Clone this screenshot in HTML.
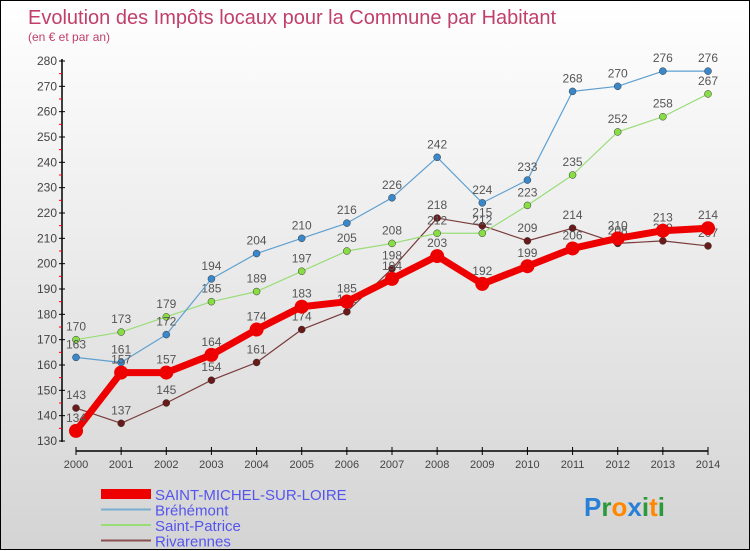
<!DOCTYPE html>
<html><head><meta charset="utf-8"><style>
body{margin:0;width:750px;height:550px;overflow:hidden;font-family:"Liberation Sans",sans-serif}
#wrap{position:relative;width:748px;height:548px;border:1px solid #000;background:linear-gradient(#fff,#d4d4d4)}
svg{position:absolute;left:0;top:0}
</style></head><body>
<div id="wrap">
<svg id="chart" width="750" height="550"></svg>
</div>
<script>
const years=[2000,2001,2002,2003,2004,2005,2006,2007,2008,2009,2010,2011,2012,2013,2014];
const smsl=[134,157,157,164,174,183,185,194,203,192,199,206,210,213,214];
const brehemont=[163,161,172,194,204,210,216,226,242,224,233,268,270,276,276];
const saintPatrice=[170,173,179,185,189,197,205,208,212,212,223,235,252,258,267];
const rivarennes=[143,137,145,154,161,174,181,198,218,215,209,214,208,209,207];
const yTicks=[130,140,150,160,170,180,190,200,210,220,230,240,250,260,270,280];
const seriesNames=["SAINT-MICHEL-SUR-LOIRE","Bréhémont","Saint-Patrice","Rivarennes"];
const NS="http://www.w3.org/2000/svg";
const svg=document.getElementById('chart');
const x=i=>75+i*(707-75)/14;
const y=v=>440-(v-130)*380/150;
function el(t,a,p){const e=document.createElementNS(NS,t);for(const k in a)e.setAttribute(k,a[k]);(p||svg).appendChild(e);return e;}
let t=el('text',{x:27,y:23,'font-size':20,fill:'#c0406a'});t.textContent="Evolution des Impôts locaux pour la Commune par Habitant";

t=el('text',{x:27,y:40,'font-size':12,fill:'#c0406a'});t.textContent="(en € et par an)";

// axes
let a=el('line',{x1:61,y1:58,x2:61,y2:441,stroke:'#000','stroke-width':1.5});

a=el('line',{x1:75,y1:450,x2:707,y2:450,stroke:'#000','stroke-width':1.5});

yTicks.forEach((v,i)=>{el('line',{x1:58,x2:64,y1:y(v),y2:y(v),stroke:'#000'});
 if(i<yTicks.length-1)el('line',{x1:58,x2:61,y1:y(v+5),y2:y(v+5),stroke:'red'});
 const l=el('text',{x:56,y:y(v)+4,'font-size':12,fill:'#444','text-anchor':'end'});l.textContent=v;
 });
years.forEach((yr,i)=>{el('line',{x1:x(i),x2:x(i),y1:446,y2:454,stroke:'#000'});
 const l=el('text',{x:x(i),y:467,'font-size':11,fill:'#444','text-anchor':'middle'});l.textContent=yr;
 });
function series(data,color,dot,w,r,name,lblColor){
 const g=el('g',{});
 el('polyline',{points:data.map((v,i)=>x(i)+','+y(v)).join(' '),fill:'none',stroke:color,'stroke-width':w,'stroke-linejoin':'round'},g);
 data.forEach((v,i)=>{const c=el('circle',{cx:x(i),cy:y(v),r:r,fill:dot,stroke:r<5?'#333':'none','stroke-width':0.5},g);
  
  const l=el('text',{x:x(i),y:y(v)-9,'font-size':12,fill:'#555','text-anchor':'middle'},g);l.textContent=v;});
}
series(rivarennes,'#7a3b3b','#6b1a1a',1.2,3.5,'rivarennes-series');
series(saintPatrice,'#99dd77','#88dd44',1.2,3.5,'saint-patrice-series');
series(brehemont,'#5fa0d0','#3a88cc',1.2,3.5,'brehemont-series');
series(smsl,'#ee0000','#ee0000',7,7,'saint-michel-series');
// legend
const lc=['#ee0000','#7aaed0','#99dd77','#8a5050'],lw=[10,2,2,2];
seriesNames.forEach((n,i)=>{const yy=493+i*15.5;
 const g=el('g',{});
 el('line',{x1:100,x2:150,y1:yy,y2:yy,stroke:lc[i],'stroke-width':lw[i]},g);
 const l=el('text',{x:154,y:yy+6,'font-size':15,fill:'#5555ee'},g);l.textContent=n;});
// logo
const logo=el('text',{x:583,y:515,'font-size':26,'font-weight':'bold'});

[['P','#2a7fd6'],['r','#2a9a3a'],['o','#ff8800'],['x','#2a7fd6'],['i','#2a9a3a'],['t','#ff8800'],['i','#2a9a3a']].forEach(([c,col])=>{const s=el('tspan',{fill:col},logo);s.textContent=c;});
</script>
</body></html>
